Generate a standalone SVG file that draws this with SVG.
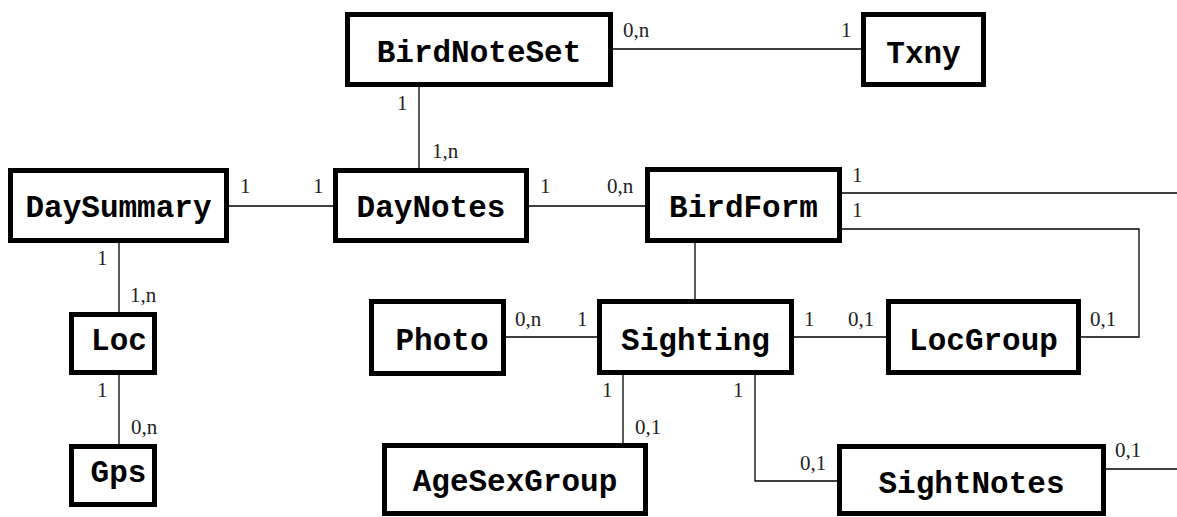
<svg xmlns="http://www.w3.org/2000/svg" width="1177" height="517" viewBox="0 0 1177 517">
<style>
.box{fill:#fff;stroke:#000;stroke-width:5}
.name{font-family:"Liberation Mono",monospace;font-weight:bold;font-size:31px;fill:#000;text-anchor:middle}
.lbl{font-family:"Liberation Serif",serif;font-size:21px;fill:#222}
.con{fill:none;stroke:#000;stroke-width:1.3}
</style>
<rect width="1177" height="517" fill="#fff"/>
<g id="connectors">
<line class="con" x1="613" y1="49" x2="861" y2="49"/>
<line class="con" x1="419" y1="87" x2="419" y2="168"/>
<line class="con" x1="229" y1="206" x2="333" y2="206"/>
<line class="con" x1="529" y1="206" x2="645" y2="206"/>
<line class="con" x1="842" y1="193" x2="1177" y2="193"/>
<polyline class="con" points="842,229 1139,229 1139,337 1081,337"/>
<line class="con" x1="695" y1="243" x2="695" y2="299"/>
<line class="con" x1="506" y1="337" x2="597" y2="337"/>
<line class="con" x1="794" y1="337" x2="886" y2="337"/>
<line class="con" x1="119" y1="243" x2="119" y2="312"/>
<line class="con" x1="119" y1="375" x2="119" y2="444"/>
<line class="con" x1="623" y1="375" x2="623" y2="443"/>
<polyline class="con" points="755,375 755,481 837,481"/>
<line class="con" x1="1106" y1="469" x2="1177" y2="469"/>
<text class="lbl" x="623" y="37">0,n</text>
<text class="lbl" x="841" y="37">1</text>
<text class="lbl" x="397" y="110">1</text>
<text class="lbl" x="432" y="158">1,n</text>
<text class="lbl" x="240" y="193">1</text>
<text class="lbl" x="313" y="193">1</text>
<text class="lbl" x="540" y="193">1</text>
<text class="lbl" x="607" y="193">0,n</text>
<text class="lbl" x="852" y="182">1</text>
<text class="lbl" x="852" y="217">1</text>
<text class="lbl" x="97" y="265">1</text>
<text class="lbl" x="130" y="302">1,n</text>
<text class="lbl" x="515" y="326">0,n</text>
<text class="lbl" x="577" y="326">1</text>
<text class="lbl" x="804" y="326">1</text>
<text class="lbl" x="848" y="326">0,1</text>
<text class="lbl" x="1090" y="326">0,1</text>
<text class="lbl" x="97" y="397">1</text>
<text class="lbl" x="131" y="434">0,n</text>
<text class="lbl" x="602" y="397">1</text>
<text class="lbl" x="635" y="434">0,1</text>
<text class="lbl" x="733" y="397">1</text>
<text class="lbl" x="800" y="470">0,1</text>
<text class="lbl" x="1115" y="457">0,1</text>
</g>
<g id="BirdNoteSet"><rect class="box" x="347.5" y="14.5" width="263" height="70"/><text class="name" x="479" y="62">BirdNoteSet</text></g>
<g id="Txny"><rect class="box" x="863.5" y="14.5" width="120" height="70"/><text class="name" x="923.5" y="63">Txny</text></g>
<g id="DaySummary"><rect class="box" x="10.5" y="170.5" width="216" height="70"/><text class="name" x="118.5" y="217">DaySummary</text></g>
<g id="DayNotes"><rect class="box" x="335.5" y="170.5" width="191" height="70"/><text class="name" x="431" y="217">DayNotes</text></g>
<g id="BirdForm"><rect class="box" x="647.5" y="169.5" width="192" height="71"/><text class="name" x="743.5" y="217">BirdForm</text></g>
<g id="Photo"><rect class="box" x="371.5" y="301.5" width="132" height="72"/><text class="name" x="442" y="350">Photo</text></g>
<g id="Sighting"><rect class="box" x="599.5" y="301.5" width="192" height="71"/><text class="name" x="695.5" y="350">Sighting</text></g>
<g id="LocGroup"><rect class="box" x="888.5" y="301.5" width="190" height="71"/><text class="name" x="983.5" y="350">LocGroup</text></g>
<g id="Loc"><rect class="box" x="71.5" y="314.5" width="83" height="58"/><text class="name" x="119" y="350">Loc</text></g>
<g id="Gps"><rect class="box" x="71.5" y="446.5" width="83" height="58"/><text class="name" x="118.5" y="482">Gps</text></g>
<g id="AgeSexGroup"><rect class="box" x="384.5" y="445.5" width="261" height="68"/><text class="name" x="515" y="491">AgeSexGroup</text></g>
<g id="SightNotes"><rect class="box" x="839.5" y="446.5" width="264" height="67"/><text class="name" x="971.5" y="493">SightNotes</text></g>
</svg>
